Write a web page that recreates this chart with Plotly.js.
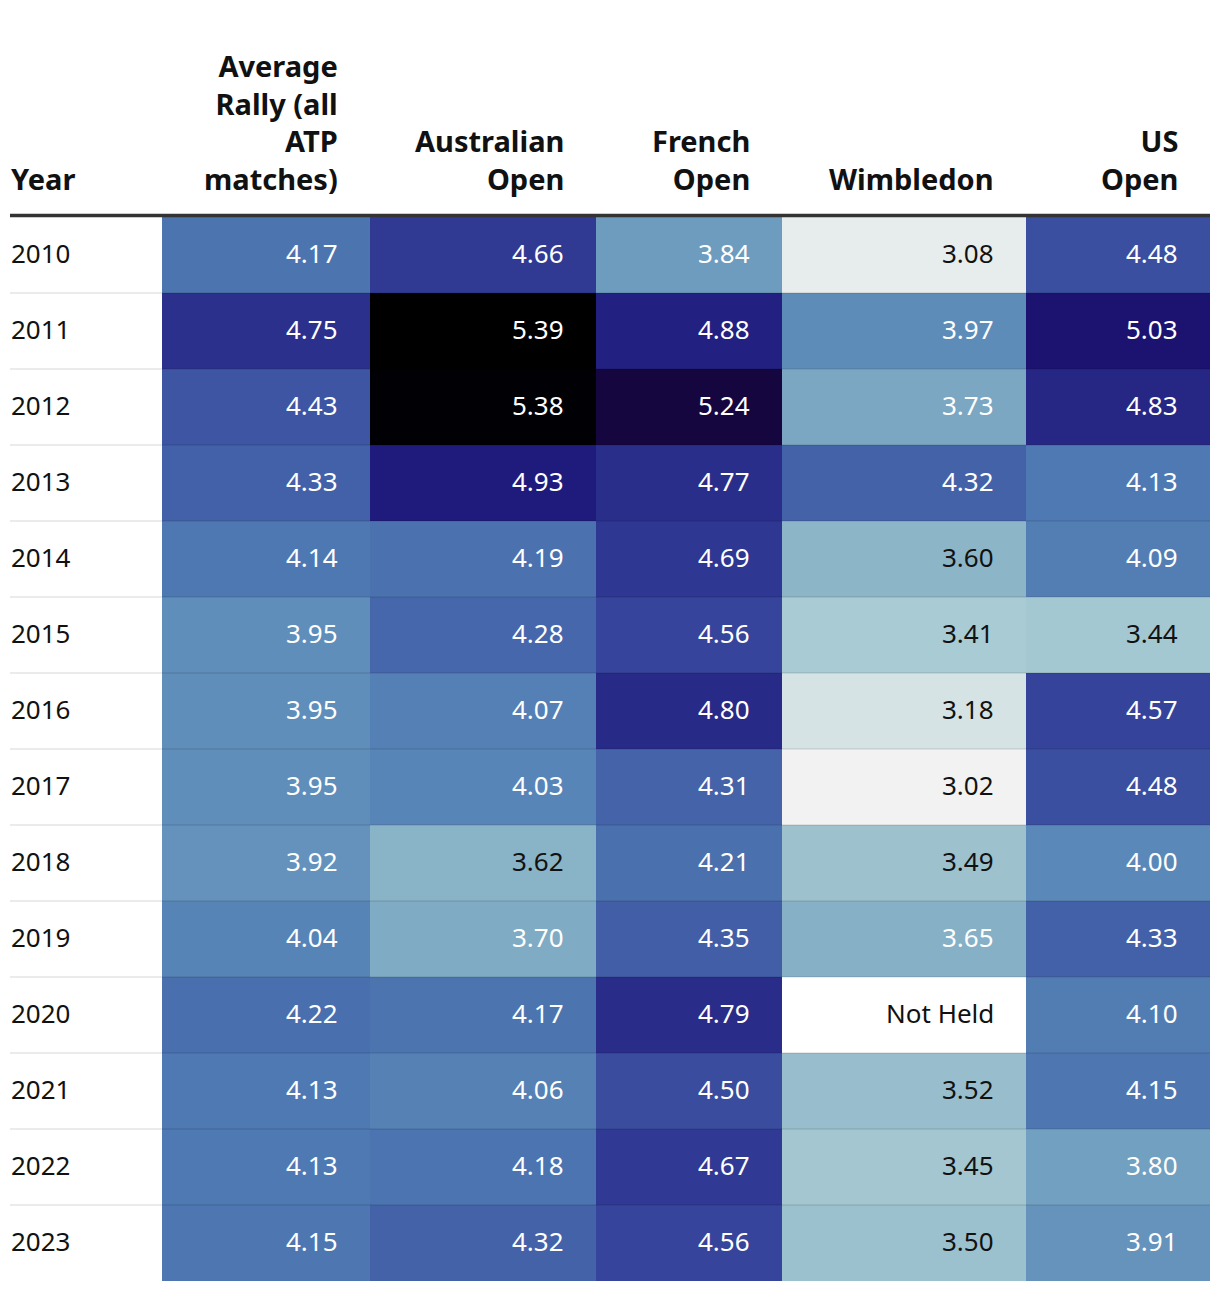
<!DOCTYPE html>
<html>
<head>
<meta charset="utf-8">
<script src="https://cdn.plot.ly/plotly-3.0.1.min.js"></script>
<style>
  html, body { margin: 0; padding: 0; background: #ffffff; }
  #chart { width: 1220px; height: 1290px; }
</style>
</head>
<body>
<div id="chart"></div>
<script>
// ---- Data ----
const years = [2010, 2011, 2012, 2013, 2014, 2015, 2016, 2017, 2018, 2019, 2020, 2021, 2022, 2023];
const columnLabels = ["Average<br>Rally (all<br>ATP<br>matches)", "Australian<br>Open", "French<br>Open", "Wimbledon", "US<br>Open"];
const avgRally   = [4.17, 4.75, 4.43, 4.33, 4.14, 3.95, 3.95, 3.95, 3.92, 4.04, 4.22, 4.13, 4.13, 4.15];
const australian = [4.66, 5.39, 5.38, 4.93, 4.19, 4.28, 4.07, 4.03, 3.62, 3.70, 4.17, 4.06, 4.18, 4.32];
const french     = [3.84, 4.88, 5.24, 4.77, 4.69, 4.56, 4.80, 4.31, 4.21, 4.35, 4.79, 4.50, 4.67, 4.56];
const wimbledon  = [3.08, 3.97, 3.73, 4.32, 3.60, 3.41, 3.18, 3.02, 3.49, 3.65, null, 3.52, 3.45, 3.50];
const usOpen     = [4.48, 5.03, 4.83, 4.13, 4.09, 3.44, 4.57, 4.48, 4.00, 4.33, 4.10, 4.15, 3.80, 3.91];
const missingLabel = "Not Held";

// ---- Styles ----
const FONT = "'Noto Sans', 'Open Sans', sans-serif";
const yearColWidth = 152;
const colWidths = [208, 226, 186, 244, 184];
const colorAnchors = [
  [3.02, "#f2f2f2"], [3.18, "#d5e3e5"], [3.41, "#a9cbd3"], [3.60, "#8cb5c8"],
  [3.84, "#6d9cbf"], [4.00, "#5a88b8"], [4.17, "#4c75b0"], [4.35, "#425ea7"],
  [4.57, "#35449a"], [4.77, "#2a2e8b"], [4.93, "#1f1b7c"], [5.03, "#1c1370"],
  [5.24, "#150640"], [5.39, "#000000"]
];
const textThreshold = 3.63;
const padRight = -30;

const series = [avgRally, australian, french, wimbledon, usOpen];
const z = years.map((_, i) => series.map(s => s[i]));
const allVals = series.flat().filter(v => v !== null);
const zmin = Math.min(...allVals), zmax = Math.max(...allVals);
const colorscale = colorAnchors.map(([v, c]) => [(v - zmin) / (zmax - zmin), c]);
colorscale[0][0] = 0; colorscale[colorscale.length - 1][0] = 1;

const edges = [yearColWidth];
colWidths.forEach(w => edges.push(edges[edges.length - 1] + w));
const totalW = edges[edges.length - 1];

const trace = {
  type: "heatmap",
  x: edges,
  y: years,
  z: z,
  zmin: zmin, zmax: zmax,
  colorscale: colorscale,
  showscale: false,
  hoverinfo: "skip",
  xgap: 0, ygap: 0
};

const annotations = [];
// Header
annotations.push({
  text: "<b>Year</b>", x: 0, xref: "x", xanchor: "left", xshift: -1,
  y: 1, yref: "paper", yanchor: "bottom", yshift: 17,
  showarrow: false, align: "left",
  font: { family: FONT, size: 29, color: "#111" }
});
columnLabels.forEach((lab, j) => {
  annotations.push({
    text: "<b>" + lab + "</b>", x: edges[j + 1], xref: "x", xanchor: "right", xshift: padRight,
    y: 1, yref: "paper", yanchor: "bottom", yshift: 17,
    showarrow: false, align: "right",
    font: { family: FONT, size: 29, color: "#111" }
  });
});

// Year column + cell values
years.forEach((yr, i) => {
  annotations.push({
    text: String(yr), x: 0, xref: "x", xanchor: "left", xshift: -1,
    y: yr, yref: "y", yanchor: "middle", yshift: 2,
    showarrow: false, font: { family: FONT, size: 26, color: "#111" }
  });
  series.forEach((s, j) => {
    const v = s[i];
    annotations.push({
      text: v === null ? missingLabel : v.toFixed(2),
      x: edges[j + 1], xref: "x", xanchor: "right", xshift: padRight,
      y: yr, yref: "y", yanchor: "middle", yshift: 2,
      showarrow: false,
      font: { family: FONT, size: 26, color: (v === null || v < textThreshold) ? "#111" : "#ffffff" }
    });
  });
});

const shapes = [];
for (let i = 0; i < years.length - 1; i++) {
  const yb = (years[i] + years[i + 1]) / 2;
  shapes.push({
    type: "line", xref: "paper", x0: 0, x1: 1, yref: "y", y0: yb, y1: yb,
    line: { color: "rgba(0,0,0,0.08)", width: 2 }, layer: "above"
  });
}
shapes.push({
  type: "line", xref: "paper", x0: 0, x1: 1, yref: "paper", y0: 1.0015, y1: 1.0015,
  line: { color: "#333333", width: 3.5 }, layer: "above"
});

const layout = {
  width: 1220, height: 1290,
  margin: { l: 10, r: 10, t: 217, b: 9 },
  paper_bgcolor: "#ffffff", plot_bgcolor: "#ffffff",
  xaxis: { range: [0, totalW], visible: false, fixedrange: true },
  yaxis: { range: [years[years.length - 1] + 0.5, years[0] - 0.5], visible: false, fixedrange: true },
  annotations: annotations,
  shapes: shapes,
  showlegend: false,
  font: { family: FONT }
};

Plotly.newPlot("chart", [trace], layout, { displayModeBar: false, staticPlot: true });
</script>
</body>
</html>
